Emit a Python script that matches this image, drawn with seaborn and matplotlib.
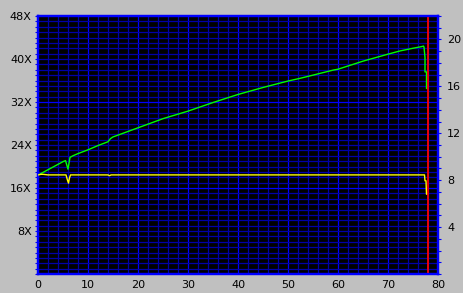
import matplotlib
matplotlib.use("Agg")
import matplotlib.pyplot as plt
import seaborn as sns
import numpy as np
import pandas as pd
from matplotlib.ticker import MultipleLocator, FixedLocator

# ---- data ----
speed_pos = [0, 1, 2, 3, 4, 5, 5.5, 6.0, 6.4, 7, 8, 10, 12, 14, 14.5, 15, 20, 25, 30,
             35, 40, 45, 50, 52.4, 55, 59.1, 60, 65, 70, 72.4, 75, 76.7, 77.1, 77.2,
             77.4, 77.4, 77.7, 77.7]
speed_x = [18.4, 18.9, 19.4, 19.9, 20.4, 20.9, 21.1, 19.5, 21.7, 22.0, 22.4, 23.1, 23.9,
           24.6, 25.2, 25.5, 27.2, 28.9, 30.3, 31.9, 33.4, 34.7, 35.9, 36.4, 37.0, 37.95,
           38.1, 39.6, 40.9, 41.5, 42.0, 42.3, 42.4, 42.2, 40.3, 37.6, 37.6, 34.5]

rpm_pos = [0, 0.6, 1.0, 2.0, 5.6, 5.9, 6.1, 6.3, 6.5, 14.0, 14.3, 14.6, 77.3, 77.4, 77.6, 77.7]
rpm_val = [8.45, 8.5, 8.5, 8.45, 8.45, 8.0, 7.75, 8.2, 8.45, 8.45, 8.38, 8.45, 8.45, 7.95, 7.95, 6.8]

end_position = 78.0

left_ticks = [8, 16, 24, 32, 40, 48]
left_labels = ["8X", "16X", "24X", "32X", "40X", "48X"]
right_ticks = [4, 8, 12, 16, 20]
right_labels = ["4", "8", "12", "16", "20"]
x_ticks = [0, 10, 20, 30, 40, 50, 60, 70, 80]
x_labels = ["0", "10", "20", "30", "40", "50", "60", "70", "80"]

# ---- styling ----
sns.set_style("white")
plt.rcParams["font.family"] = ["DejaVu Sans"]
GREY = "#c0c0c0"
BRIGHT = "#0000ff"
DARK = "#0000a8"

fig = plt.figure(figsize=(4.63, 2.93), dpi=100, facecolor=GREY)
ax = fig.add_axes([38 / 463, 1 - 274 / 293, 400 / 463, 258 / 293])
ax.set_facecolor("black")
ax.set_xlim(0, 80)
ax.set_ylim(0, 48)

# grid
for gx in np.arange(2, 80, 2):
    ax.axvline(gx, color=BRIGHT if gx % 10 == 0 else DARK, lw=0.9, zorder=0.5)
for gy in np.arange(1, 48, 1):
    ax.axhline(gy, color=BRIGHT if gy % 16 == 0 else DARK, lw=0.9, zorder=0.5)

df_speed = pd.DataFrame({"pos": speed_pos, "speed": speed_x})
sns.lineplot(data=df_speed, x="pos", y="speed", ax=ax, color="#00ff00", lw=1.0,
             estimator=None, sort=False, zorder=3)

ax.axvline(end_position, color="#ff0000", lw=1.3, zorder=4)

ax2 = ax.twinx()
ax2.set_ylim(0, 22)
df_rpm = pd.DataFrame({"pos": rpm_pos, "rpm": rpm_val})
sns.lineplot(data=df_rpm, x="pos", y="rpm", ax=ax2, color="#ffff00", lw=1.0,
             estimator=None, sort=False, zorder=3)
ax2.set_xlim(0, 80)

# ticks
ax.xaxis.set_major_locator(FixedLocator(x_ticks))
ax.set_xticklabels(x_labels)
ax.xaxis.set_minor_locator(MultipleLocator(2))
ax.yaxis.set_major_locator(FixedLocator(left_ticks))
ax.set_yticklabels(left_labels)
ax.yaxis.set_minor_locator(MultipleLocator(1))
ax2.yaxis.set_major_locator(FixedLocator(right_ticks))
ax2.set_yticklabels(right_labels)
ax2.yaxis.set_minor_locator(MultipleLocator(1))

for a in (ax, ax2):
    a.set_xlabel("")
    a.set_ylabel("")
    a.tick_params(which="both", colors="black", labelsize=8, length=2.5, width=0.8,
                  direction="out")
    a.tick_params(which="both", color=BRIGHT)
    a.tick_params(which="minor", length=2.5)
ax.tick_params(axis="y", pad=2)
ax.tick_params(axis="x", pad=1.5)
ax2.tick_params(axis="y", pad=4)

for a in (ax, ax2):
    for s in a.spines.values():
        s.set_color(BRIGHT)
        s.set_linewidth(1.6)
        s.set_visible(True)

fig.savefig("out.png", dpi=100, facecolor=GREY)
